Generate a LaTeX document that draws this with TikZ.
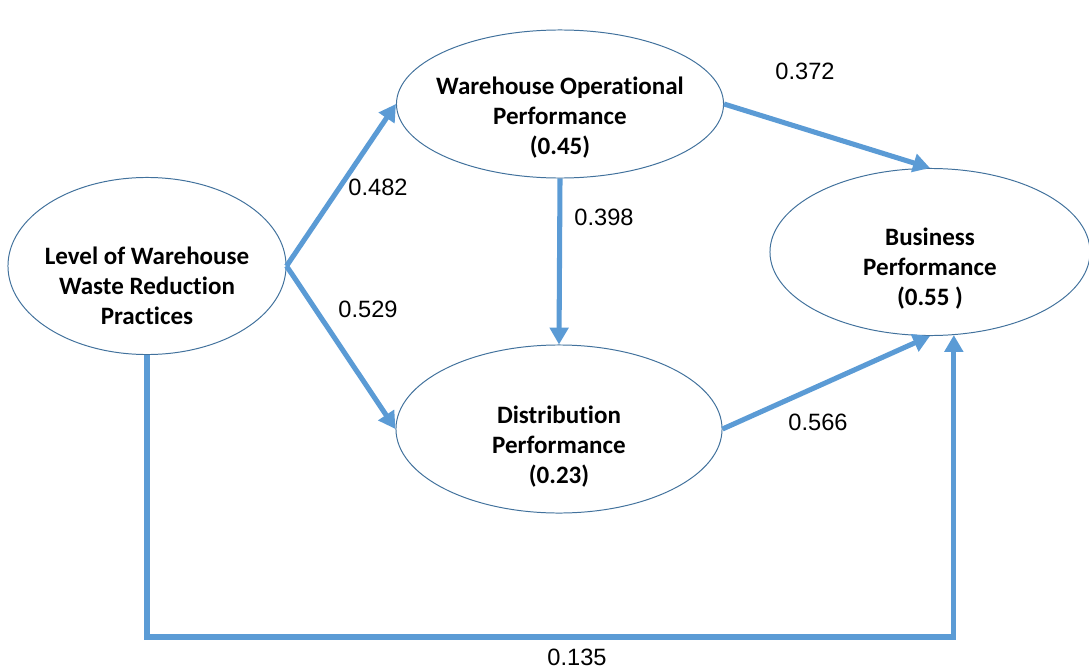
\documentclass[tikz,border=0pt]{standalone}
\usepackage{fontspec}
\setmainfont{Liberation Sans}
\newfontfamily\nodefont[Ligatures=NoCommon]{Carlito}
\usetikzlibrary{shapes.geometric,arrows.meta,positioning,calc}
\definecolor{pathblue}{RGB}{91,155,213}
\definecolor{rimblue}{RGB}{65,113,156}

\begin{document}
\begin{tikzpicture}[
    x=0.025cm, y=-0.025cm,
    construct/.style={ellipse, draw=rimblue, line width=0.7pt, inner xsep=-15pt, inner ysep=0pt, align=center, text height=72pt, text depth=0pt, font=\nodefont\bfseries\fontsize{17.8}{21.3}\selectfont},
    effect/.style={draw=pathblue, line width=3.6pt, -{Triangle[length=12pt,width=13pt]}},
    coef/.style={font=\fontsize{16.8}{19}\selectfont}
]
\useasboundingbox (0,0) rectangle (1089,670);

% Constructs
\node[construct, minimum width=6.95cm, minimum height=4.425cm, text height=83pt] (lvl) at (147,266) {Level of Warehouse\\Waste Reduction\\Practices};
\node[construct, minimum width=8.175cm, minimum height=3.7cm] (wop) at (560,104) {Warehouse Operational\\Performance\\(0.45)};
\node[construct, minimum width=8.15cm, minimum height=4.2cm, text height=78pt] (dist) at (559,429) {Distribution\\Performance\\(0.23)};
\node[construct, minimum width=8.0cm, minimum height=4.175cm, text height=76pt] (bus) at (930,252) {Business\\Performance\\(0.55 )};

% Path coefficients
\node[coef] (c482) at (378,187) {0.482};
\node[coef] (c529) at (368,309) {0.529};
\node[coef] (c398) at (604,217) {0.398};
\node[coef] (c372) at (805,71) {0.372};
\node[coef] (c566) at (818,422) {0.566};
\node[coef] (c135) at (577,657) {0.135};

% Arrows
\draw[effect] (lvl.east) -- (wop.west);
\draw[effect] (lvl.east) -- (dist.west);
\draw[effect] (wop.south) -- (dist.north);
\draw[effect] (wop.east) -- (bus.north);
\draw[effect] (dist.east) -- (bus.south);
\draw[effect] (lvl.south) -- ++(0,282) -| (bus.-74);

\end{tikzpicture}
\end{document}
